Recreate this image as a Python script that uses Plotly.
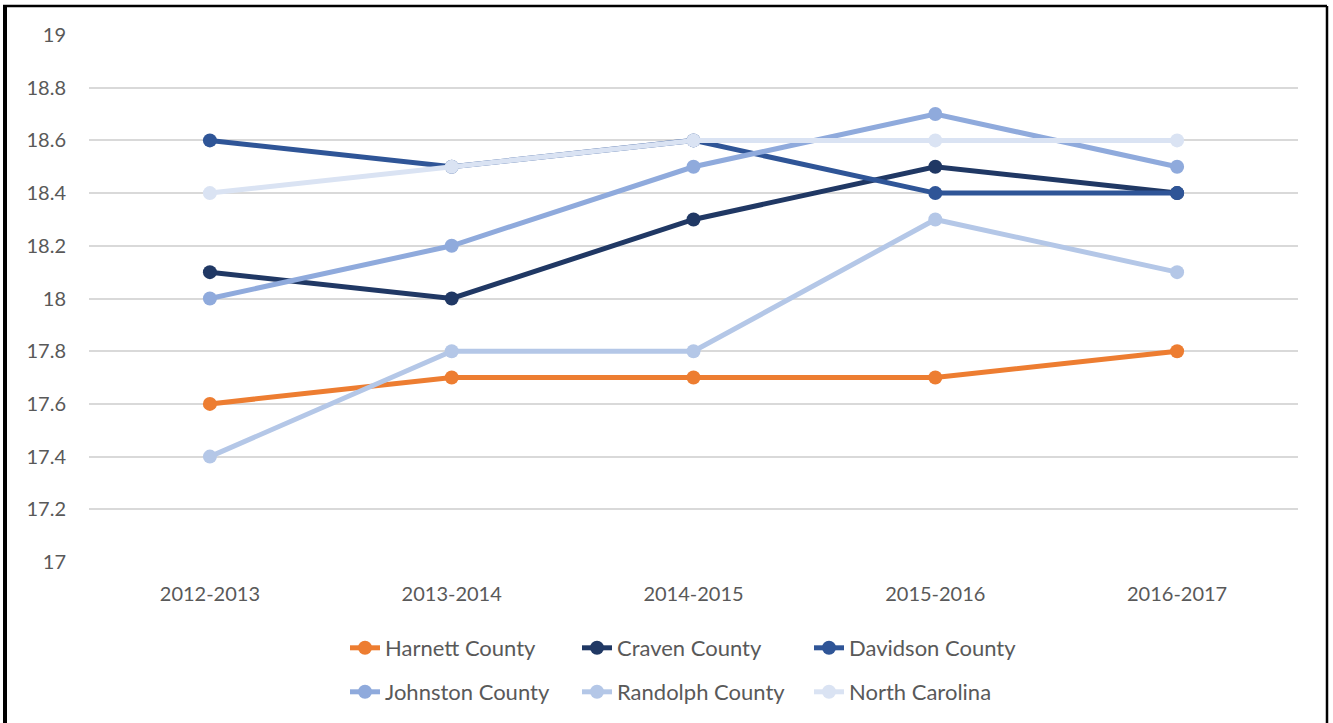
import plotly.graph_objects as go

years = ["2012-2013", "2013-2014", "2014-2015", "2015-2016", "2016-2017"]
harnett = [17.6, 17.7, 17.7, 17.7, 17.8]
craven = [18.1, 18.0, 18.3, 18.5, 18.4]
davidson = [18.6, 18.5, 18.6, 18.4, 18.4]
johnston = [18.0, 18.2, 18.5, 18.7, 18.5]
randolph = [17.4, 17.8, 17.8, 18.3, 18.1]
north_carolina = [18.4, 18.5, 18.6, 18.6, 18.6]

series = [
    ("Harnett County", harnett, "#ED7D31", "legend"),
    ("Craven County", craven, "#203864", "legend"),
    ("Davidson County", davidson, "#2F5597", "legend"),
    ("Johnston County", johnston, "#8FAADC", "legend2"),
    ("Randolph County", randolph, "#B4C7E7", "legend2"),
    ("North Carolina", north_carolina, "#DAE3F3", "legend2"),
]

fig = go.Figure()
for name, vals, col, lg in series:
    fig.add_trace(go.Scatter(
        x=years, y=vals, name=name, mode="lines+markers",
        line=dict(color=col, width=5),
        marker=dict(color=col, size=14),
        legend=lg,
    ))

W, H = 1333, 723
L, R, T, B = 89, 35, 35, 161
pw, ph = W - L - R, H - T - B

def px2x(px):
    return (px - L) / pw

def py2y(py):
    return (H - B - py) / ph

font_family = "Lato, 'Open Sans', sans-serif"
legend_common = dict(
    orientation="h", xanchor="left", yanchor="top",
    entrywidth=187, entrywidthmode="pixels",
    font=dict(size=22, color="#595959", family=font_family),
    bgcolor="rgba(0,0,0,0)",
)

fig.update_layout(
    width=W, height=H,
    margin=dict(l=L, r=R, t=T, b=B, autoexpand=False),
    paper_bgcolor="white", plot_bgcolor="white",
    font=dict(family=font_family, color="#595959", size=20),
    showlegend=True,
    legend=dict(x=px2x(345), y=py2y(627), **legend_common),
    legend2=dict(x=px2x(345), y=py2y(671), **legend_common),
    xaxis=dict(
        type="category", range=[-0.5, 4.5], showgrid=False, zeroline=False,
        showline=False, ticks="", tickfont=dict(size=20, color="#595959"),
        ticklabelstandoff=18,
    ),
    yaxis=dict(
        range=[17, 19], dtick=0.2, tick0=17, showgrid=True, gridcolor="#D9D9D9",
        gridwidth=2, zeroline=False, showline=False, ticks="",
        tickfont=dict(size=20, color="#595959"), ticklabelstandoff=22,
        tickformat="~g",
    ),
    shapes=[
        dict(type="line", xref="paper", yref="paper",
             x0=px2x(5), x1=px2x(5), y0=py2y(6), y1=py2y(723),
             line=dict(color="black", width=4)),
        dict(type="line", xref="paper", yref="paper",
             x0=px2x(3), x1=px2x(1327), y0=py2y(6), y1=py2y(6),
             line=dict(color="black", width=2.5)),
        dict(type="line", xref="paper", yref="paper",
             x0=px2x(1327), x1=px2x(1327), y0=py2y(6), y1=py2y(723),
             line=dict(color="black", width=2.5)),
    ],
)

fig.write_html("out.html", config={"displayModeBar": False},
               post_script="document.body.style.margin='0';")
